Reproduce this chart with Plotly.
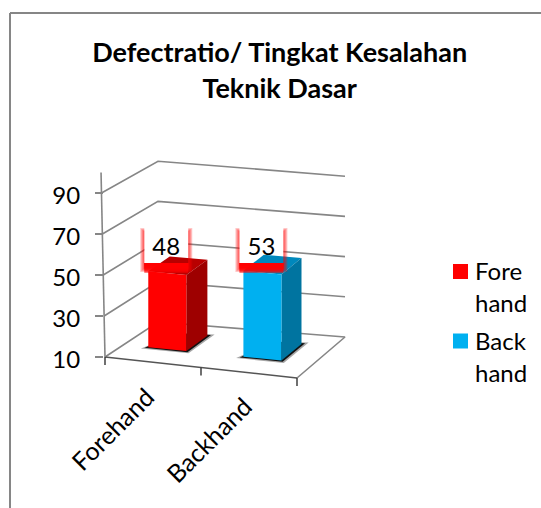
import plotly.graph_objects as go

title_lines = ["Defectratio/ Tingkat Kesalahan", "Teknik Dasar"]
categories = ["Forehand", "Backhand"]
series_names = [["Fore", "hand"], ["Back", "hand"]]
values = [48, 53]
y_ticks = [10, 30, 50, 70, 90]

FONT = "Lato"
GRID = "#868686"
FRONT = ["#FF0000", "#00B0F0"]
SIDE = ["#9E0000", "#0074A0"]
TOP = ["#B80000", "#0088BC"]

# Oblique projection of the 3D frame: u = category position, d = depth, v = value
FL, FR, BL, BR = (105, 357), (297, 378), (158, 322), (345, 337)
Y_PX_10, Y_SCALE = 357, 2.05
W, H = 541, 508


def to_val(py):
    return 10 + (Y_PX_10 - py) / Y_SCALE


def project(u, d, v, scale=Y_SCALE, lean=0.0):
    s, t = u / 2, d
    px = (1-s)*(1-t)*FL[0] + s*(1-t)*FR[0] + (1-s)*t*BL[0] + s*t*BR[0]
    py = (1-s)*(1-t)*FL[1] + s*(1-t)*FR[1] + (1-s)*t*BL[1] + s*t*BR[1]
    return px - lean*(v-10), to_val(py - (v-10)*scale)


fig = go.Figure()


def poly(points, color, width=0, line=None, fill=True):
    xs = [p[0] for p in points]
    ys = [p[1] for p in points]
    fig.add_trace(go.Scatter(
        x=xs, y=ys, mode="lines", showlegend=False, hoverinfo="skip",
        fill="toself" if fill else "none", fillcolor=color if fill else None,
        line=dict(color=line or color, width=width)))


def px_rect(x0, x1, y0, y1, color):
    poly([(x0, to_val(y0)), (x1, to_val(y0)), (x1, to_val(y1)), (x0, to_val(y1)), (x0, to_val(y0))], color)


# Walls, gridlines
for v in y_ticks:
    pts = [project(0, 0, v, lean=0.044), project(0, 1, v, scale=2.01), project(2, 1, v, scale=2.01)]
    if v == 10:
        pts.append(project(2, 0, v))
    poly(pts, GRID, width=1.6, fill=False)
    if v == 10:
        poly([project(0, 0, 10), project(2, 0, 10)], "#555555", width=1.6, fill=False)
poly([project(0, 0, 10), project(0, 0, 100, lean=0.044)], GRID, width=1.6, fill=False)

# x ticks
for u in [0, 1, 2]:
    x, y = project(u, 0, 10)
    poly([(x, y), (x, y - 8 / Y_SCALE)], "#333333", width=1.4, fill=False)

U0, UW, D0, D1, BAR_SCALE = 0.26, 0.40, 0.35, 0.76, 2.0

# Label boxes (white), under the bars
boxes = []
for i, val in enumerate(values):
    tx, ty = project(i + U0, D0, val, scale=BAR_SCALE)
    L, R = tx - 4, tx + 40
    T, B = 228, 263
    boxes.append((L, R, T, B))
    px_rect(L, R, T, B, "#FFFFFF")

# Bars
for i, val in enumerate(values):
    a, b = i + U0, i + U0 + UW
    for alpha, g in ((0.35, 0.05), (0.9, 0.025)):
        poly([project(a-g, D0-g, 10), project(b+g, D0-g, 10), project(b+g, D1+g, 10),
              project(a+.1, D1, 10), project(a-g, D0-g, 10)], f"rgba(0,0,0,{alpha})")
    fbl, fbr = project(a, D0, 10), project(b, D0, 10)
    ftl, ftr = project(a, D0, val, BAR_SCALE), project(b, D0, val, BAR_SCALE)
    bbr, btr = project(b, D1, 10), project(b, D1, val, BAR_SCALE)
    btl = project(a, D1, val, BAR_SCALE)
    poly([ftl, ftr, btr, btl, ftl], TOP[i])
    poly([fbr, ftr, btr, bbr, fbr], SIDE[i])
    poly([fbl, fbr, ftr, ftl, fbl], FRONT[i])

# Red glow round the label boxes
for L, R, T, B in boxes:
    for k in range(1, 5):
        a = 0.22
        px_rect(L - k, L, T + 4 - k, B + 5 + k, f"rgba(255,0,0,{a})")
        px_rect(R, R + k, T + 4 - k, B + 5 + k, f"rgba(255,0,0,{a})")
    for k in (3, 5, 6, 7, 8, 9, 10):
        px_rect(L, R, B, B + k, "rgba(255,0,0,0.5)")

# Data labels
fig.add_trace(go.Scatter(
    x=[(b[0] + b[1]) / 2 for b in boxes], y=[to_val(249)] * len(boxes),
    mode="text", text=[str(v) for v in values], showlegend=False, hoverinfo="skip",
    textposition="middle center", textfont=dict(family=FONT, size=24, color="#000000")))

annotations = []

# Legend keys and their two-line labels, placed to match the reference spacing
LEG_KEY_X, LEG_TEXT_X, LEG_Y, LEG_STEP, LEG_LINE = 460.5, 473, 270.5, 69.5, 32
for i, (name, col) in enumerate(zip(series_names, FRONT)):
    y_px = LEG_Y + i * LEG_STEP
    fig.add_trace(go.Scatter(x=[LEG_KEY_X], y=[to_val(LEG_Y + 1 + i * LEG_STEP)], mode="markers", showlegend=False,
                             name=" ".join(name), hoverinfo="skip",
                             marker=dict(symbol="square", size=15, color=col)))
    for j, word in enumerate(name):
        annotations.append(dict(x=LEG_TEXT_X, y=to_val(y_px + j * LEG_LINE), xref="x", yref="y", text=word,
                                xanchor="left", yanchor="middle", showarrow=False,
                                font=dict(family=FONT, size=24, color="#000000")))

# Category labels
for i, c in enumerate(categories):
    x, y = project(i + 0.5, 0, 10)
    annotations.append(dict(x=x - 41, y=y - 67 / Y_SCALE, xref="x", yref="y", text=c, textangle=-45,
                            showarrow=False, font=dict(family=FONT, size=25, color="#000000")))

fig.update_layout(
    width=W, height=H, autosize=False, margin=dict(l=0, r=0, t=0, b=0), showlegend=False,
    paper_bgcolor="#FFFFFF", plot_bgcolor="#FFFFFF",
    title=dict(text="<br>".join(title_lines), x=0.517, xanchor="center", y=0.877, yanchor="middle",
               font=dict(family=FONT, size=27, color="#000000", weight="bold")),
    xaxis=dict(range=[0, W], visible=False, domain=[0, 1], fixedrange=True),
    yaxis=dict(range=[to_val(H), to_val(0)], domain=[0, 1], anchor="free", position=103 / W,
               tickmode="array", tickvals=y_ticks, ticktext=[str(v) for v in y_ticks],
               ticks="outside", ticklen=8, tickcolor=GRID, tickwidth=1.5,
               ticklabelstandoff=10, ticklabelshift=3,
               showgrid=False, zeroline=False, showline=False, fixedrange=True,
               tickfont=dict(family=FONT, size=24, color="#000000")),
    annotations=annotations,
    shapes=[
        dict(type="line", xref="paper", yref="paper", x0=10 / W, x1=1, y0=1 - 13 / H, y1=1 - 13 / H,
             line=dict(color=GRID, width=2)),
        dict(type="line", xref="paper", yref="paper", x0=10 / W, x1=10 / W, y0=0, y1=1 - 13 / H,
             line=dict(color=GRID, width=2)),
    ],
)
fig.write_html("out.html", config={"displayModeBar": False},
               post_script="document.body.style.margin='0';document.documentElement.style.overflow='hidden';")
